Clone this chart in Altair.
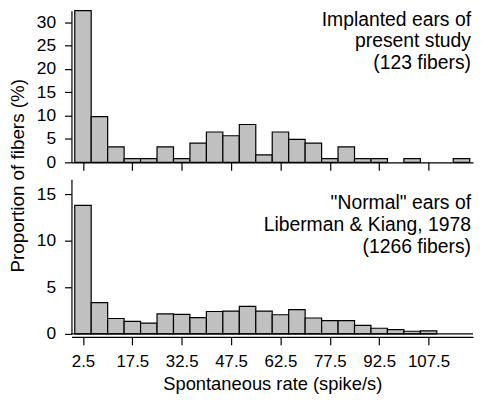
import altair as alt
import pandas as pd

# ---- data ----
bin_starts = list(range(0, 120, 5))  # 5 spike/s bins, 0-5 ... 115-120
implanted_pct = [32.5, 9.8, 3.3, 0.8, 0.8, 3.3, 0.8, 4.1, 6.5, 5.7, 8.1, 1.6,
                 6.5, 4.9, 4.1, 0.8, 3.3, 0.8, 0.8, 0.0, 0.8, 0.0, 0.0, 0.8]
normal_pct = [13.8, 3.35, 1.65, 1.35, 1.15, 2.15, 2.1, 1.75, 2.4, 2.45, 2.95,
              2.45, 2.05, 2.6, 1.7, 1.42, 1.42, 0.92, 0.6, 0.45, 0.28, 0.32]
x_ticks = [2.5, 17.5, 32.5, 47.5, 62.5, 77.5, 92.5, 107.5]
top_yticks = [0, 5, 10, 15, 20, 25, 30]
bottom_yticks = [0, 5, 10, 15]
top_lines = ["Implanted ears of", "present study", "(123 fibers)"]
bottom_lines = ['"Normal" ears of', "Liberman & Kiang, 1978", "(1266 fibers)"]
x_title = "Spontaneous rate (spike/s)"
y_title = "Proportion of fibers (%)"

FONT = "Liberation Sans"
W = 405


def table(vals):
    rows = [{"lo": s, "hi": s + 5, "pct": v}
            for s, v in zip(bin_starts, vals) if v > 0]
    return pd.DataFrame(rows)


xscale = alt.Scale(domain=[-1, 121], nice=False, zero=False)
one = pd.DataFrame({"k": [0]})


def panel(vals, ymax, yticks, h, lines, bottom):
    df = table(vals)
    if bottom:
        xaxis = alt.Axis(values=x_ticks, format=".1f", title=x_title,
                         offset=3, tickSize=8, labelPadding=9,
                         labelFontSize=17, titleFontSize=18.5,
                         titlePadding=5, labelFlush=False)
        yaxis = alt.Axis(values=yticks, title=None, tickSize=7,
                         labelPadding=9, labelFontSize=17.5)
    else:
        xaxis = alt.Axis(values=x_ticks, labels=False, title=None,
                         tickSize=8)
        yaxis = alt.Axis(values=yticks, title=y_title, tickSize=7,
                         labelPadding=9, labelFontSize=17.5,
                         titleFontSize=19, titleX=-44, titleY=166)
    yscale = alt.Scale(domain=[0, ymax], nice=False, zero=True)
    bars = alt.Chart(df).mark_rect(
        fill="#c0c0c0", stroke="black", strokeWidth=1.2
    ).encode(
        x=alt.X("lo:Q", scale=xscale, axis=xaxis),
        x2="hi:Q",
        y=alt.Y("pct:Q", scale=yscale, axis=yaxis),
    )
    ty = 15 if bottom else 0
    txt = alt.Chart(one).mark_text(
        text=lines, align="right", baseline="top", fontSize=19.5,
        lineHeight=22, font=FONT, color="black"
    ).encode(x=alt.value(W - 2), y=alt.value(ty))
    layers = [bars, txt]
    if bottom:
        rule = alt.Chart(one).mark_rule(color="black", strokeWidth=1.2).encode(
            y=alt.datum(0))
        layers.append(rule)
    return alt.layer(*layers).properties(width=W, height=h)


top = panel(implanted_pct, 32.5, top_yticks, 153, top_lines, False)
bot = panel(normal_pct, 16.6, bottom_yticks, 156, bottom_lines, True)

chart = alt.vconcat(top, bot, spacing=17, bounds="flush").properties(
    padding={"left": 1, "top": 0, "right": 0, "bottom": 0}
).configure_axis(
    labelFont=FONT, titleFont=FONT, labelColor="black", titleColor="black",
    domainColor="black", tickColor="black", domainWidth=1.2, tickWidth=1.2,
    grid=False, titleFontWeight="normal"
).configure_view(strokeWidth=0)

chart.save("out.html", embed_options={"renderer": "svg", "actions": False})
